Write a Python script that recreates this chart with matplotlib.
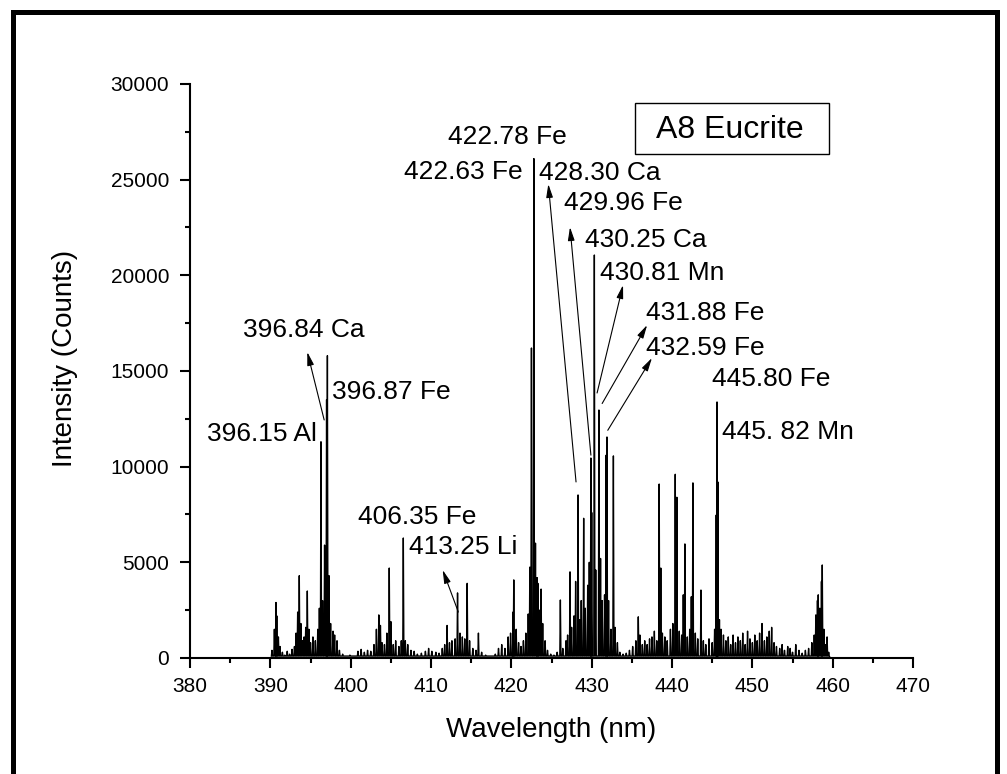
import numpy as np
import matplotlib
matplotlib.use("Agg")
import matplotlib.pyplot as plt
from matplotlib.patches import Rectangle
from matplotlib.ticker import MultipleLocator

plt.rcParams["font.family"] = ["Liberation Sans", "DejaVu Sans"]

# spectral samples (wavelength nm, counts)
peak_wl = [
    390.2, 390.5, 390.7, 390.8, 391.0, 391.2, 391.5, 391.8, 392.1, 392.4, 392.7, 393.0,
    393.2, 393.4, 393.6, 393.8, 394.0, 394.2, 394.4, 394.6, 394.8, 395.0, 395.3, 395.6,
    395.9, 396.1, 396.3, 396.5, 396.75, 397.0, 397.1, 397.3, 397.5, 397.8, 398.0, 398.3,
    398.6, 399.0, 399.4, 399.9, 400.4, 400.9, 401.3, 401.7, 402.1, 402.5, 402.9, 403.2,
    403.5, 403.7, 403.9, 404.2, 404.5, 404.8, 405.0, 405.3, 405.6, 406.0, 406.3, 406.55,
    406.8, 407.1, 407.5, 407.9, 408.3, 408.8, 409.3, 409.7, 410.1, 410.6, 411.0, 411.4,
    411.7, 412.0, 412.3, 412.6, 413.0, 413.3, 413.6, 413.9, 414.2, 414.5, 414.8, 415.2,
    415.6, 415.9, 416.3, 416.8, 417.4, 418.0, 418.4, 418.8, 419.2, 419.6, 419.9, 420.2,
    420.3, 420.6, 420.9, 421.2, 421.5, 421.8, 422.1, 422.3, 422.5, 422.8, 423.0, 423.2,
    423.3, 423.5, 423.7, 423.9, 424.2, 424.5, 424.9, 425.3, 425.7, 426.1, 426.4, 426.8,
    427.0, 427.3, 427.5, 427.8, 428.0, 428.3, 428.5, 428.7, 429.0, 429.2, 429.5, 429.7,
    429.9, 430.0, 430.33, 430.5, 430.9, 431.1, 431.3, 431.6, 431.8, 431.9, 432.1, 432.4,
    432.7, 432.9, 433.2, 433.5, 433.9, 434.3, 434.7, 435.1, 435.5, 435.8, 436.0, 436.3,
    436.6, 436.9, 437.2, 437.5, 437.8, 438.1, 438.4, 438.6, 438.8, 439.1, 439.4, 439.8,
    440.1, 440.4, 440.6, 440.9, 441.2, 441.4, 441.6, 441.9, 442.2, 442.4, 442.6, 442.9,
    443.2, 443.6, 443.9, 444.2, 444.6, 445.0, 445.3, 445.5, 445.6, 445.7, 445.9, 446.1,
    446.4, 446.7, 447.0, 447.3, 447.6, 447.9, 448.2, 448.5, 448.8, 449.1, 449.4, 449.7,
    450.0, 450.3, 450.6, 450.9, 451.2, 451.5, 451.8, 452.1, 452.4, 452.7, 453.0, 453.4,
    453.7, 454.0, 454.4, 454.7, 455.0, 455.4, 455.8, 456.2, 456.6, 457.0, 457.4, 457.7,
    457.9, 458.1, 458.2, 458.4, 458.6, 458.7, 458.9, 459.1, 459.3, 459.5,
]
peak_int = [
    400, 1500, 2900, 2200, 1100, 600, 300, 150, 350, 200, 450, 600,
    1300, 2400, 4300, 1800, 900, 1100, 1600, 3500, 1500, 800, 1100, 900,
    1500, 2600, 11300, 3000, 5900, 13500, 15800, 4300, 1800, 1400, 1200, 900,
    400, 200, 100, 150, 100, 350, 450, 300, 400, 350, 700, 1500,
    2250, 1700, 800, 700, 1300, 4700, 1900, 700, 900, 600, 900, 6270,
    900, 700, 400, 350, 200, 250, 350, 500, 350, 300, 250, 500,
    700, 1700, 800, 900, 1000, 3400, 1300, 1100, 1000, 3900, 900, 500,
    400, 1300, 300, 150, 100, 200, 500, 700, 500, 1100, 1300, 2400,
    4080, 1500, 800, 600, 900, 1300, 2300, 4750, 16200, 26100, 6000, 4200,
    3900, 2500, 3600, 1800, 900, 400, 200, 150, 300, 3030, 500, 900,
    1200, 4500, 1600, 2200, 4000, 8520, 2000, 3000, 7300, 2600, 3800, 5000,
    10450, 7600, 21060, 4600, 12960, 5200, 3000, 3300, 10600, 11550, 3000, 1500,
    10560, 1600, 800, 300, 200, 250, 400, 600, 900, 2150, 1200, 700,
    900, 700, 1000, 1100, 1400, 900, 9090, 4700, 1300, 1100, 900, 1500,
    1800, 9600, 8400, 1400, 1200, 3300, 5960, 1100, 1500, 3200, 9150, 1300,
    1000, 3550, 900, 700, 1000, 800, 1500, 7470, 13380, 9200, 2000, 1500,
    1200, 900, 1100, 700, 1200, 800, 1100, 900, 1300, 700, 1400, 1000,
    800, 1200, 900, 1300, 1800, 900, 1100, 1400, 1600, 800, 600, 500,
    700, 400, 600, 500, 300, 700, 400, 250, 400, 500, 800, 1200,
    2250, 3000, 3300, 2600, 4000, 4860, 1500, 700, 1100, 300,
]
trough = 100

# labels: text, x, y, alignment
labels = [
    ("396.84 Ca", 386.6, 17140, "left"),
    ("396.87 Fe", 397.7, 13900, "left"),
    ("396.15 Al", 395.8, 11700, "right"),
    ("406.35 Fe", 400.9, 7370, "left"),
    ("413.25 Li", 407.2, 5800, "left"),
    ("422.78 Fe", 412.1, 27230, "left"),
    ("422.63 Fe", 421.45, 25400, "right"),
    ("428.30 Ca", 423.45, 25350, "left"),
    ("429.96 Fe", 426.55, 23780, "left"),
    ("430.25 Ca", 429.2, 21840, "left"),
    ("430.81 Mn", 431.05, 20120, "left"),
    ("431.88 Fe", 436.8, 18030, "left"),
    ("432.59 Fe", 436.8, 16200, "left"),
    ("445.80 Fe", 445.0, 14580, "left"),
    ("445. 82 Mn", 446.2, 11800, "left"),
]
# arrows: (tail x, tail y) -> (head x, head y)
arrows = [
    ((396.7, 12440), (394.6, 15990)),
    ((413.4, 2400), (411.45, 4600)),
    ((428.05, 9200), (424.6, 24770)),
    ((429.9, 10600), (427.3, 22520)),
    ((430.67, 13850), (433.9, 19490)),
    ((431.3, 13300), (436.9, 17400)),
    ((432.0, 11900), (437.5, 15680)),
]

# build the trace: narrow spikes standing on a low floor
half = 0.07
xs, ys = [], []
for w, h in zip(peak_wl, peak_int):
    xs += [w - half, w, w + half]
    ys += [trough, h, trough]
xs.append(peak_wl[-1] + 0.2)
ys.append(0)

fig = plt.figure(figsize=(10.07, 7.74), dpi=100)
ax = fig.add_axes([0.1887, 0.1499, 0.718, 0.7416])

ax.plot(xs, ys, color="black", lw=1.0)

ax.set_xlim(380, 470)
ax.set_ylim(0, 30000)
ax.xaxis.set_major_locator(MultipleLocator(10))
ax.xaxis.set_minor_locator(MultipleLocator(5))
ax.yaxis.set_major_locator(MultipleLocator(5000))
ax.yaxis.set_minor_locator(MultipleLocator(2500))
ax.tick_params(which="major", direction="out", length=7, width=1.5, labelsize=15)
ax.tick_params(axis="x", which="major", pad=6.5)
ax.tick_params(axis="y", which="major", pad=8)
ax.tick_params(which="minor", direction="out", length=3.5, width=1.5)
ax.spines["top"].set_visible(False)
ax.spines["right"].set_visible(False)
ax.spines["left"].set_linewidth(1.5)
ax.spines["bottom"].set_linewidth(1.5)

ax.set_xlabel("Wavelength (nm)", fontsize=20)
ax.set_ylabel("Intensity (Counts)", fontsize=20)
ax.xaxis.set_label_coords(0.5, -0.103)
ax.yaxis.set_label_coords(-0.155, 0.521)

for text, x, y, ha in labels:
    ax.text(x, y, text, fontsize=19, ha=ha, va="center", clip_on=False)

for tail, head in arrows:
    ax.annotate("", xy=head, xytext=tail,
                arrowprops=dict(arrowstyle="-|>,head_length=0.8,head_width=0.2",
                                color="black", lw=0.8, shrinkA=0, shrinkB=0))

# sample name box
ax.add_patch(Rectangle((435.4, 26340), 24.15, 2660, fill=False, lw=1.0,
                       edgecolor="black", clip_on=False))
ax.text(447.2, 27590, "A8 Eucrite", fontsize=23, ha="center", va="center")

# heavy frame around the picture
fig.patches.append(Rectangle((0.0134, -0.02), 0.9766, 1.0045, fill=False,
                             lw=3.6, edgecolor="black", transform=fig.transFigure))

fig.savefig("out.png", dpi=100)
